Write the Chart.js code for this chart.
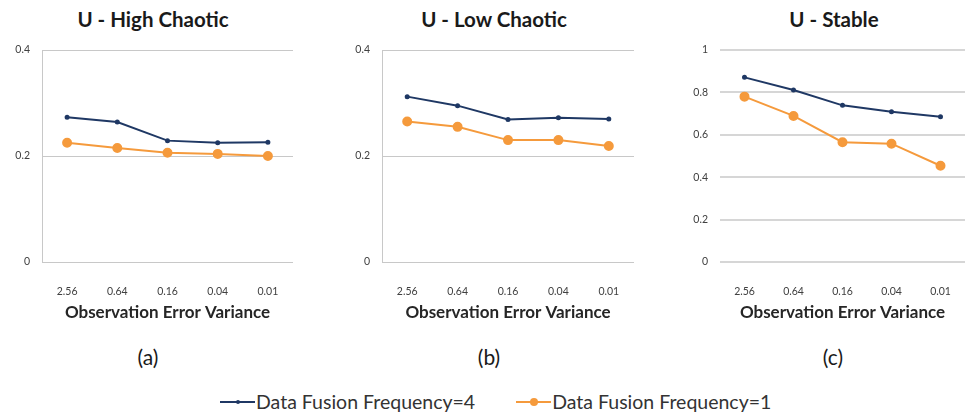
<!DOCTYPE html>
<html lang="en">
<head>
<meta charset="UTF-8">
<title>Observation error variance panels</title>
<script src="https://cdn.jsdelivr.net/npm/chart.js"></script>
<style>
    body { margin: 0; background: #fff; font-family: Lato, sans-serif; }
    .pagina { position: relative; width: 971px; height: 413px; overflow: hidden; }
    .painel { position: absolute; top: 0; height: 330px; }
    .titulo { position: absolute; top: 6px; font-weight: bold; font-size: 20.5px; line-height: 26px; color: #1a1a1a; transform: translateX(-50%); white-space: nowrap; }
    .rotulo { position: absolute; top: 344px; font-size: 21px; line-height: 26px; color: #1a1a1a; transform: translateX(-50%); }
    .legenda { position: absolute; top: 384px; left: 220px; font-size: 19.5px; line-height: 24px; color: #333; white-space: nowrap; }
    .item { display: inline-flex; align-items: center; margin-right: 36px; }
    .amostra { position: relative; display: inline-block; width: 35px; height: 2px; margin-right: 1px; }
    .amostra i { position: absolute; left: 50%; top: 50%; transform: translate(-50%, -50%); border-radius: 50%; }
</style>
</head>
<body>
<div class="pagina">
    <div class="titulo" style="left:153px">U - High Chaotic</div>
    <div class="titulo" style="left:494px">U - Low Chaotic</div>
    <div class="titulo" style="left:834px">U - Stable</div>

    <div class="painel" style="left:0px;width:320px"><canvas id="chartA"></canvas></div>
    <div class="painel" style="left:320px;width:320px"><canvas id="chartB"></canvas></div>
    <div class="painel" style="left:640px;width:331px"><canvas id="chartC"></canvas></div>

    <div class="rotulo" style="left:148px">(a)</div>
    <div class="rotulo" style="left:489px">(b)</div>
    <div class="rotulo" style="left:833px">(c)</div>

    <div class="legenda">
        <span class="item"><span class="amostra" style="background:#1f3864"><i style="width:4px;height:4px;background:#1f3864"></i></span>Data Fusion Frequency=4</span>
        <span class="item"><span class="amostra" style="background:#f59a3c"><i style="width:8px;height:8px;background:#f59a3c"></i></span>Data Fusion Frequency=1</span>
    </div>
</div>

<script>
    // valores
    var variancias = ['2.56', '0.64', '0.16', '0.04', '0.01'];
    var serieNomes = ['Data Fusion Frequency=4', 'Data Fusion Frequency=1'];

    var altoCaotico4 = [0.273, 0.264, 0.229, 0.225, 0.226];
    var altoCaotico1 = [0.225, 0.215, 0.206, 0.204, 0.200];

    var baixoCaotico4 = [0.312, 0.295, 0.269, 0.272, 0.270];
    var baixoCaotico1 = [0.265, 0.255, 0.230, 0.230, 0.219];

    var estavel4 = [0.871, 0.811, 0.739, 0.709, 0.685];
    var estavel1 = [0.780, 0.689, 0.565, 0.558, 0.454];

    var maxA = 0.4, maxB = 0.4, maxC = 1;

    var azul = '#1f3864';
    var laranja = '#f59a3c';

    function criarGrafico(id, dados4, dados1, yMax, larguraY, padDireita, grade, comBorda) {
        const ctx = document.getElementById(id);
        new Chart(ctx, {
            type: 'line',
            data: {
                labels: variancias,
                datasets: [{
                    label: serieNomes[0],
                    data: dados4,
                    borderColor: azul,
                    backgroundColor: azul,
                    borderWidth: 2,
                    pointRadius: 1.5,
                    pointStyle: 'circle'
                }, {
                    label: serieNomes[1],
                    data: dados1,
                    borderColor: laranja,
                    backgroundColor: laranja,
                    borderWidth: 2,
                    pointRadius: 4,
                    pointStyle: 'circle'
                }]
            },
            options: {
                responsive: true,
                maintainAspectRatio: false,
                animation: false,
                layout: { padding: { top: 50, right: padDireita, left: 0, bottom: 0 } },
                plugins: { legend: { display: false }, tooltip: { enabled: false } },
                scales: {
                    x: {
                        offset: true,
                        grid: { display: false },
                        border: { display: false },
                        ticks: { padding: 15, color: '#404040', font: { family: 'Lato', size: 10.5 } },
                        title: {
                            display: true,
                            text: 'Observation Error Variance',
                            color: '#262626',
                            font: { family: 'Lato', size: 17, weight: 'bold' },
                            padding: { top: 0, bottom: 7 }
                        },
                        afterFit: function (escala) { escala.height = 68; }
                    },
                    y: {
                        min: 0,
                        max: yMax,
                        ticks: {
                            stepSize: 0.2,
                            padding: 12,
                            color: '#404040',
                            font: { family: 'Lato', size: 10.5 },
                            callback: function (v) { return String(Math.round(v * 10) / 10); }
                        },
                        grid: { color: grade.cor, lineWidth: grade.largura, drawTicks: false },
                        border: { display: comBorda, color: '#c8c8c8' },
                        afterFit: function (escala) { escala.width = larguraY; }
                    }
                }
            }
        });
    }

    criarGrafico('chartA', altoCaotico4, altoCaotico1, maxA, 42, 27, { cor: '#c8c8c8', largura: 1 }, true);
    criarGrafico('chartB', baixoCaotico4, baixoCaotico1, maxB, 62, 5, { cor: '#c8c8c8', largura: 1 }, true);
    criarGrafico('chartC', estavel4, estavel1, maxC, 80, 1, { cor: '#d6d6d6', largura: 2 }, false);
</script>
</body>
</html>
